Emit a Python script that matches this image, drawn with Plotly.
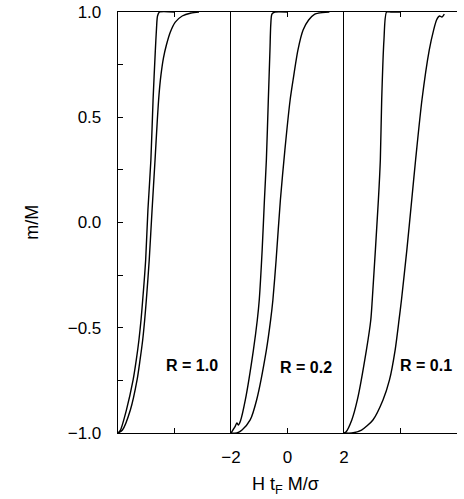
import plotly.graph_objects as go

# Panel R = 1.0
r10_a_x = [-2.0, -1.913, -1.703, -1.465, -1.353, -1.259, -1.185, -1.126, -1.070, -1.021, -0.941, -0.836, -0.759, -0.678, -0.636, -0.601, -0.531, 0.0]
r10_a_y = [-1.0, -0.986, -0.891, -0.748, -0.653, -0.558, -0.463, -0.368, -0.273, -0.178, 0.059, 0.297, 0.582, 0.819, 0.924, 0.981, 1.0, 1.0]
r10_b_x = [-2.0, -1.843, -1.563, -1.325, -1.220, -1.126, -1.056, -0.997, -0.944, -0.895, -0.794, -0.689, -0.608, -0.549, -0.479, -0.392, -0.287, -0.147, 0.028, 0.273, 0.587, 0.867]
r10_b_y = [-1.0, -0.986, -0.891, -0.748, -0.653, -0.558, -0.463, -0.368, -0.273, -0.178, 0.059, 0.297, 0.487, 0.606, 0.701, 0.781, 0.843, 0.905, 0.952, 0.981, 0.995, 1.0]

# Panel R = 0.2
r02_a_x = [-2.0, -1.862, -1.793, -1.741, -1.666, -1.493, -1.207, -1.069, -1.0, -0.897, -0.817, -0.748, -0.679, -0.621, -0.593, -0.552, -0.448, 0.0]
r02_a_y = [-1.0, -0.971, -0.952, -0.962, -0.943, -0.843, -0.606, -0.463, -0.368, -0.131, 0.107, 0.297, 0.582, 0.819, 0.938, 0.990, 1.0, 1.0]
r02_b_x = [-2.0, -1.793, -1.610, -1.321, -1.093, -0.748, -0.597, -0.517, -0.403, -0.252, -0.093, 0.093, 0.197, 0.369, 0.552, 0.748, 0.966, 1.103, 1.483]
r02_b_y = [-1.0, -1.0, -0.986, -0.938, -0.843, -0.606, -0.463, -0.368, -0.178, 0.107, 0.344, 0.582, 0.677, 0.819, 0.914, 0.962, 0.990, 0.995, 1.0]

# Panel R = 0.1
r01_a_x = [-2.0, -1.931, -1.724, -1.528, -1.207, -1.052, -1.0, -0.783, -0.714, -0.666, -0.586, -0.493, -0.345, 0.0]
r01_a_y = [-1.0, -0.995, -0.938, -0.843, -0.606, -0.463, -0.368, 0.107, 0.297, 0.582, 0.867, 1.0, 1.0, 1.0]
r01_b_x = [-2.0, -1.724, -1.379, -0.976, -0.620, -0.390, -0.190, -0.052, 0.034, 0.224, 0.397, 0.534, 0.759, 1.017, 1.172, 1.276, 1.379, 1.466, 1.552]
r01_b_y = [-1.0, -1.0, -0.986, -0.938, -0.843, -0.748, -0.606, -0.463, -0.368, -0.131, 0.107, 0.297, 0.582, 0.819, 0.914, 0.962, 0.981, 0.976, 0.990]

panel_labels = ["R = 1.0", "R = 0.2", "R = 0.1"]
y_ticks = [-1.0, -0.5, 0.0, 0.5, 1.0]
y_ticktext = ["\u22121.0", "\u22120.5", "0.0", "0.5", "1.0"]
x_ticks_mid = [-2, 0, 2]
x_ticktext_mid = ["\u22122", "0", "2"]

FONT = "Liberation Sans, Arial, Helvetica, sans-serif"
line = dict(color="black", width=1.4)

fig = go.Figure()
series = [
    (r10_a_x, r10_a_y, "x", "y"), (r10_b_x, r10_b_y, "x", "y"),
    (r02_a_x, r02_a_y, "x2", "y2"), (r02_b_x, r02_b_y, "x2", "y2"),
    (r01_a_x, r01_a_y, "x3", "y3"), (r01_b_x, r01_b_y, "x3", "y3"),
]
for xs, ys, xa, ya in series:
    fig.add_trace(go.Scatter(x=xs, y=ys, mode="lines", line=dict(line, shape="spline", smoothing=0.7),
                             xaxis=xa, yaxis=ya, showlegend=False, hoverinfo="skip"))

common_x = dict(range=[-2, 2], showgrid=False, zeroline=False, showline=True,
                linecolor="black", linewidth=1.3, ticks="inside", ticklen=5,
                tickcolor="black", mirror="ticks", fixedrange=True,
                tickfont=dict(family=FONT, size=17, color="black"))
common_y = dict(range=[-1, 1], showgrid=False, zeroline=False, showline=True,
                linecolor="black", linewidth=1.3, fixedrange=True)

d = [0, 1/3, 2/3, 1]
fig.update_layout(
    xaxis=dict(common_x, domain=[d[0], d[1]], tickvals=[0], showticklabels=False, anchor="y"),
    xaxis2=dict(common_x, domain=[d[1], d[2]], tickvals=x_ticks_mid, ticktext=x_ticktext_mid,
                showticklabels=True, anchor="y2", ticklabelstandoff=8),
    xaxis3=dict(common_x, domain=[d[2], d[3]], tickvals=[0], showticklabels=False, anchor="y3"),
    yaxis=dict(common_y, anchor="x", tickvals=y_ticks, ticktext=y_ticktext,
               ticks="inside", ticklen=5, tickcolor="black",
               minor=dict(dtick=0.25, tick0=0, ticks="inside", ticklen=5, tickcolor="black"),
               tickfont=dict(family=FONT, size=17, color="black"), ticklabelstandoff=12),
    yaxis2=dict(common_y, anchor="x2", showticklabels=False, ticks=""),
    yaxis3=dict(common_y, anchor="x3", showticklabels=False, ticks=""),
    width=464, height=499,
    margin=dict(l=118, r=2, t=12, b=66),
    plot_bgcolor="white", paper_bgcolor="white",
    hovermode=False,
)

label_pos = [(0.62, -0.68, "x", "y"), (0.66, -0.69, "x2", "y2"), (0.91, -0.68, "x3", "y3")]
for (lx, ly, xr, yr), txt in zip(label_pos, panel_labels):
    fig.add_annotation(x=lx, y=ly, xref=xr, yref=yr, text="<b>" + txt + "</b>",
                       showarrow=False, font=dict(family=FONT, size=16, color="black"))

fig.add_annotation(x=-(118 - 30) / 344, y=0.5, xref="paper", yref="paper", text="m/M",
                   textangle=-90, showarrow=False, xanchor="center", yanchor="middle",
                   font=dict(family=FONT, size=18, color="black"))
fig.add_annotation(x=(288 - 118) / 344, y=-(485 - 433) / 421, xref="paper", yref="paper",
                   text="H t<sub>F</sub> M/\u03c3", showarrow=False, xanchor="center",
                   yanchor="middle", font=dict(family=FONT, size=18, color="black"))

fig.write_html("out.html", config={"displayModeBar": False, "staticPlot": True},
               post_script="document.body.style.margin='0';document.body.style.overflow='hidden';")
